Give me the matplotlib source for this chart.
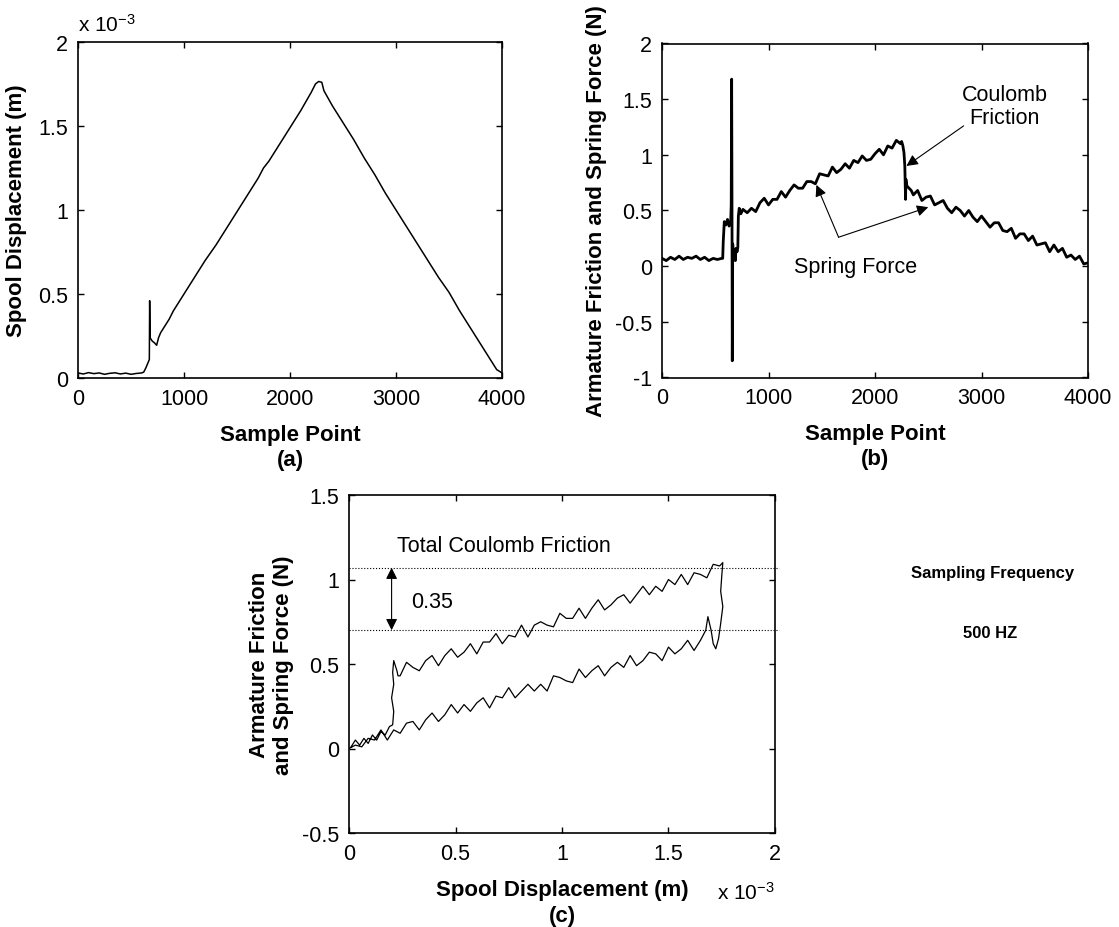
import numpy as np
import matplotlib
matplotlib.use("Agg")
import matplotlib.pyplot as plt

plt.rcParams['font.family'] = ['Liberation Sans', 'DejaVu Sans']
plt.rcParams['mathtext.fontset'] = 'custom'
plt.rcParams['mathtext.rm'] = 'Liberation Sans'
plt.rcParams['mathtext.it'] = 'Liberation Sans:italic'
plt.rcParams['mathtext.bf'] = 'Liberation Sans:bold'

# ---- (a) spool displacement (x 1e-3 m) vs sample point
sample_a = [0, 50, 100, 150, 200, 250, 300, 350, 400, 450, 500, 550, 600, 620, 640, 660,
            673, 676, 680, 700, 720, 742, 760, 780, 820, 860, 900, 950, 1000, 1100, 1200,
            1300, 1400, 1500, 1600, 1700, 1750, 1800, 1900, 2000, 2100, 2200, 2240, 2270,
            2300, 2320, 2400, 2500, 2600, 2700, 2800, 2900, 3000, 3100, 3200, 3300, 3400,
            3500, 3600, 3700, 3800, 3900, 3950, 4000]
disp_a = [0.030, 0.024, 0.032, 0.026, 0.030, 0.022, 0.028, 0.031, 0.024, 0.029, 0.022, 0.027,
          0.030, 0.035, 0.06, 0.09, 0.11, 0.46, 0.24, 0.22, 0.21, 0.195, 0.24, 0.27, 0.31,
          0.35, 0.40, 0.45, 0.50, 0.60, 0.70, 0.79, 0.89, 0.99, 1.09, 1.19, 1.25, 1.29, 1.39,
          1.49, 1.59, 1.70, 1.75, 1.765, 1.76, 1.71, 1.62, 1.52, 1.42, 1.31, 1.21, 1.10, 1.00,
          0.90, 0.80, 0.70, 0.60, 0.51, 0.40, 0.30, 0.20, 0.10, 0.05, 0.03]

# ---- (b) armature friction and spring force (N) vs sample point
sample_b_rest = [0, 40, 80, 120, 160, 200, 240, 280, 320, 360, 400, 440, 480, 520, 560]
force_b_rest = [0.07, 0.05, 0.08, 0.06, 0.09, 0.06, 0.08, 0.07, 0.09, 0.06, 0.08, 0.05,
                0.07, 0.06, 0.07]
sample_b_jump = [570, 575, 585, 600, 615, 630, 645, 650, 654, 657, 660, 664, 670, 678, 688,
                 695, 705, 712, 717, 725, 740]
force_b_jump = [0.07, 0.22, 0.40, 0.37, 0.42, 0.36, 0.40, 0.55, 1.68, 0.60, -0.85, 0.20,
                0.10, 0.15, 0.05, 0.16, 0.13, 0.17, 0.45, 0.52, 0.47]
sample_b_up = [760, 800, 840, 880, 920, 960, 1000, 1040, 1080, 1120, 1160, 1200, 1240, 1280,
               1320, 1360, 1400, 1440, 1480, 1520, 1560, 1600, 1640, 1680, 1720, 1760, 1800,
               1840, 1880, 1920, 1960, 2000, 2040, 2080, 2120, 2160, 2200, 2240]
force_b_up = [0.51, 0.48, 0.52, 0.49, 0.57, 0.61, 0.55, 0.60, 0.60, 0.67, 0.62, 0.68, 0.73,
              0.70, 0.70, 0.76, 0.76, 0.74, 0.83, 0.82, 0.81, 0.89, 0.84, 0.87, 0.92, 0.88,
              0.95, 0.93, 0.99, 0.95, 0.96, 1.01, 1.05, 1.00, 1.08, 1.06, 1.13, 1.10]
sample_b_drop = [2250, 2262, 2272, 2280, 2284, 2287, 2290, 2300, 2320, 2340]
force_b_drop = [1.12, 1.08, 1.02, 0.90, 0.72, 0.60, 0.78, 0.72, 0.70, 0.68]
sample_b_down = [2360, 2400, 2440, 2480, 2520, 2560, 2600, 2640, 2680, 2720, 2760, 2800,
                 2840, 2880, 2920, 2960, 3000, 3040, 3080, 3120, 3160, 3200, 3240, 3280,
                 3320, 3360, 3400, 3440, 3480, 3520, 3560, 3600, 3640, 3680, 3720, 3760,
                 3800, 3840, 3880, 3920, 3960, 4000]
force_b_down = [0.64, 0.68, 0.59, 0.62, 0.63, 0.55, 0.57, 0.59, 0.52, 0.48, 0.53, 0.50,
                0.45, 0.50, 0.44, 0.40, 0.45, 0.40, 0.35, 0.39, 0.39, 0.32, 0.31, 0.34,
                0.25, 0.29, 0.29, 0.23, 0.27, 0.19, 0.20, 0.21, 0.13, 0.19, 0.13, 0.16,
                0.08, 0.10, 0.06, 0.09, 0.02, 0.03]

# ---- (c) force (N) vs spool displacement (x 1e-3 m)
disp_c_start = [0.01, 0.03, 0.05, 0.07, 0.09, 0.11, 0.13, 0.15, 0.17, 0.19, 0.205, 0.21,
                0.20, 0.21, 0.205, 0.21, 0.225, 0.23]
force_c_start = [0.01, 0.05, 0.02, 0.06, 0.03, 0.08, 0.05, 0.10, 0.08, 0.13, 0.14, 0.22,
                 0.30, 0.38, 0.45, 0.52, 0.46, 0.43]
disp_c_upper = [0.24, 0.27, 0.30, 0.33, 0.36, 0.39, 0.42, 0.45, 0.48, 0.51, 0.54, 0.57,
                0.60, 0.63, 0.66, 0.69, 0.72, 0.75, 0.78, 0.81, 0.84, 0.87, 0.90, 0.93,
                0.96, 0.99, 1.02, 1.05, 1.08, 1.11, 1.14, 1.17, 1.20, 1.23, 1.26, 1.29,
                1.32, 1.35, 1.38, 1.41, 1.44, 1.47, 1.50, 1.53, 1.56, 1.59, 1.62, 1.65,
                1.68, 1.71, 1.74]
force_c_upper = [0.43, 0.51, 0.48, 0.46, 0.52, 0.55, 0.49, 0.55, 0.59, 0.54, 0.57, 0.62,
                 0.56, 0.63, 0.63, 0.68, 0.62, 0.67, 0.66, 0.73, 0.66, 0.73, 0.75, 0.73,
                 0.72, 0.80, 0.77, 0.77, 0.83, 0.77, 0.83, 0.88, 0.82, 0.85, 0.89, 0.91,
                 0.86, 0.91, 0.96, 0.91, 0.96, 0.93, 1.00, 0.97, 1.03, 0.97, 1.04, 1.03,
                 1.01, 1.09, 1.08]
disp_c_turn = [1.755, 1.75, 1.745, 1.755, 1.745, 1.735, 1.722, 1.71, 1.70, 1.685, 1.675]
force_c_turn = [1.10, 1.02, 0.93, 0.84, 0.74, 0.65, 0.59, 0.62, 0.70, 0.78, 0.70]
disp_c_lower = [1.65, 1.62, 1.59, 1.56, 1.53, 1.50, 1.47, 1.44, 1.41, 1.38, 1.35, 1.32,
                1.29, 1.26, 1.23, 1.20, 1.17, 1.14, 1.11, 1.08, 1.05, 1.02, 0.99, 0.96,
                0.93, 0.90, 0.87, 0.84, 0.81, 0.78, 0.75, 0.72, 0.69, 0.66, 0.63, 0.60,
                0.57, 0.54, 0.51, 0.48, 0.45, 0.42, 0.39, 0.36, 0.33, 0.30, 0.27, 0.24,
                0.21, 0.18, 0.15, 0.12, 0.09, 0.06, 0.03, 0.00]
force_c_lower = [0.64, 0.58, 0.64, 0.59, 0.56, 0.60, 0.52, 0.56, 0.57, 0.52, 0.49, 0.55,
                 0.48, 0.51, 0.48, 0.43, 0.49, 0.46, 0.42, 0.47, 0.39, 0.40, 0.42, 0.43,
                 0.34, 0.38, 0.34, 0.38, 0.34, 0.30, 0.36, 0.30, 0.31, 0.24, 0.30, 0.27,
                 0.22, 0.26, 0.21, 0.26, 0.20, 0.16, 0.21, 0.17, 0.11, 0.16, 0.15, 0.09,
                 0.11, 0.05, 0.11, 0.05, 0.06, 0.01, 0.02, 0.00]
friction_high = 1.07
friction_low = 0.70

sample_b = sample_b_rest + sample_b_jump + sample_b_up + sample_b_drop + sample_b_down
force_b = force_b_rest + force_b_jump + force_b_up + force_b_drop + force_b_down
disp_c = disp_c_start + disp_c_upper + disp_c_turn + disp_c_lower
force_c = force_c_start + force_c_upper + force_c_turn + force_c_lower

W, H = 1119, 928
fig = plt.figure(figsize=(W / 100, H / 100), dpi=100)

def px_axes(l, t, r, b):
    return fig.add_axes([l / W, 1 - b / H, (r - l) / W, (b - t) / H])

def style(ax):
    ax.tick_params(direction='in', length=4, width=1, top=True, right=True,
                   labelsize=15.5, pad=7)
    for s in ax.spines.values():
        s.set_linewidth(1.2)

LBL = dict(fontsize=16, fontweight='bold')
TXT = 15.5

# (a)
ax1 = px_axes(78, 43, 502, 379)
ax1.plot(sample_a, disp_a, color='k', lw=1.1)
ax1.set_xlim(0, 4000)
ax1.set_ylim(0, 2)
ax1.set_xticks([0, 1000, 2000, 3000, 4000])
ax1.set_yticks([0, 0.5, 1, 1.5, 2])
ax1.set_yticklabels(['0', '0.5', '1', '1.5', '2'])
style(ax1)
ax1.set_xlabel('Sample Point\n(a)', linespacing=1.25, labelpad=11, **LBL)
ax1.set_ylabel('Spool Displacement (m)', labelpad=8, **LBL)
ax1.text(0, 1.02, r'x 10$^{-3}$', transform=ax1.transAxes, fontsize=15,
         ha='left', va='bottom')

# (b)
ax2 = px_axes(662, 44.5, 1088, 378.5)
ax2.plot(sample_b, force_b, color='k', lw=2.0)
ax2.set_xlim(0, 4000)
ax2.set_ylim(-1, 2)
ax2.set_xticks([0, 1000, 2000, 3000, 4000])
ax2.set_yticks([-1, -0.5, 0, 0.5, 1, 1.5, 2])
ax2.set_yticklabels(['-1', '-0.5', '0', '0.5', '1', '1.5', '2'])
style(ax2)
ax2.set_xlabel('Sample Point\n(b)', linespacing=1.25, labelpad=11, **LBL)
ax2.set_ylabel('Armature Friction and Spring Force (N)', labelpad=6, **LBL)
arr = dict(arrowstyle='-|>', color='k', lw=0.8, mutation_scale=17, shrinkA=0, shrinkB=0)
ax2.annotate('', xy=(2295, 0.90), xytext=(2832, 1.26), arrowprops=arr)
ax2.text(3220, 1.44, 'Coulomb\nFriction', fontsize=TXT, ha='center', va='center',
         linespacing=1.15)
ax2.annotate('', xy=(1450, 0.73), xytext=(1658, 0.26), arrowprops=arr)
ax2.annotate('', xy=(2500, 0.53), xytext=(1658, 0.26), arrowprops=arr)
ax2.text(1818, 0.0, 'Spring Force', fontsize=TXT, ha='center', va='center')

# (c)
ax3 = px_axes(349, 496, 775, 834)
ax3.plot(disp_c, force_c, color='k', lw=0.9)
ax3.plot([0, 2.02], [friction_high, friction_high], color='k', lw=0.8, ls=':', clip_on=False)
ax3.plot([0, 2.02], [friction_low, friction_low], color='k', lw=0.8, ls=':', clip_on=False)
ax3.annotate('', xy=(0.2, friction_high), xytext=(0.2, friction_low),
             arrowprops=dict(arrowstyle='<|-|>', color='k', lw=0.8, mutation_scale=17,
                             shrinkA=0, shrinkB=0))
ax3.text(0.29, 0.87, '0.35', fontsize=TXT, ha='left', va='center')
ax3.text(0.225, 1.2, 'Total Coulomb Friction', fontsize=TXT, ha='left', va='center')
ax3.set_xlim(0, 2)
ax3.set_ylim(-0.5, 1.5)
ax3.set_xticks([0, 0.5, 1, 1.5, 2])
ax3.set_xticklabels(['0', '0.5', '1', '1.5', '2'])
ax3.set_yticks([-0.5, 0, 0.5, 1, 1.5])
ax3.set_yticklabels(['-0.5', '0', '0.5', '1', '1.5'])
style(ax3)
ax3.set_xlabel('Spool Displacement (m)\n(c)', linespacing=1.3, labelpad=11, **LBL)
ax3.set_ylabel('Armature Friction\nand Spring Force (N)', linespacing=1.15, labelpad=6, **LBL)
ax3.text(1.0, -0.175, r'x 10$^{-3}$', transform=ax3.transAxes, fontsize=15,
         ha='right', va='center')

fig.text(993 / W, 1 - 574 / H, 'Sampling Frequency', fontsize=12, fontweight='bold',
         ha='center', va='center')
fig.text(990 / W, 1 - 633 / H, '500 HZ', fontsize=12, fontweight='bold',
         ha='center', va='center')

fig.savefig('out.png', dpi=100)
